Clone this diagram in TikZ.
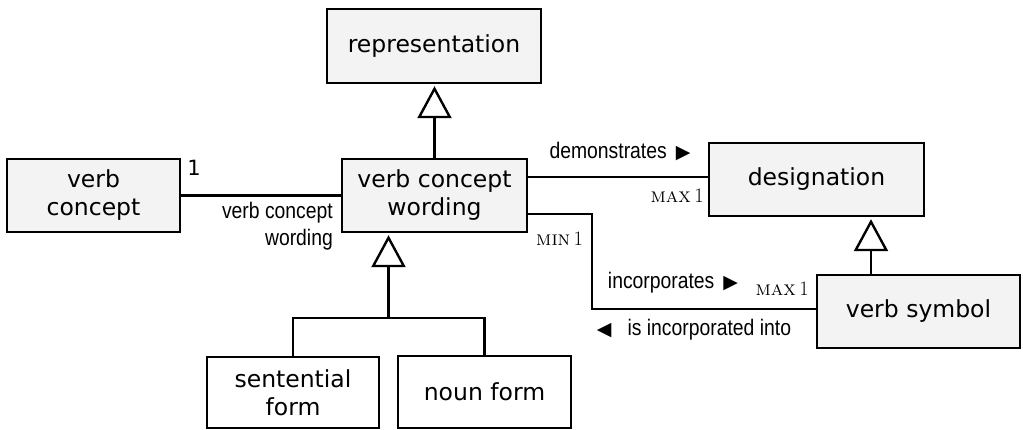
\documentclass[tikz,border=0pt]{standalone}
\usepackage{fontspec}
\newfontfamily\boxfont{DejaVu Sans}
\newfontfamily\lblfont{Liberation Sans}[FakeStretch=0.86]
\newfontfamily\symfont{DejaVu Sans}
\usetikzlibrary{arrows.meta}
\definecolor{boxgray}{RGB}{243,243,243}
\tikzset{
  cls/.style={draw, line width=2.4pt, fill=boxgray, align=center, inner sep=0pt,
    font=\boxfont\fontsize{23.5}{28}\selectfont},
  leaf/.style={cls, fill=white},
  gen/.style={line width=2.4pt, shorten >=2pt,
    -{Triangle[open,width=34pt,length=32pt]}},
  assoc/.style={line width=2.4pt},
  lbl/.style={font=\lblfont\fontsize{22.5}{27}\selectfont, inner sep=0pt, align=right},
  mult/.style={font=\fontsize{20.5}{22}\selectfont, inner sep=0pt},
  one/.style={font=\boxfont\fontsize{21}{24}\selectfont, inner sep=0pt}
}
\newcommand{\rtri}{{\symfont\fontsize{19}{19}\selectfont ▶}}
\newcommand{\ltri}{{\symfont\fontsize{19}{19}\selectfont ◀}}
\begin{document}
\begin{tikzpicture}[x=1pt,y=-1pt]
\useasboundingbox (0,0) rectangle (1023,430);
% boxes
\node[cls, minimum width=214pt, minimum height=74pt] (rep) at (434,46) {representation};
\node[cls, minimum width=173pt, minimum height=73pt] (vc) at (93.5,195.5) {verb\\concept};
\node[cls, minimum width=185pt, minimum height=73pt] (vcw) at (434.5,195.5) {verb concept\\wording};
\node[cls, minimum width=215pt, minimum height=73pt] (des) at (816.5,179.5) {designation};
\node[cls, minimum width=203pt, minimum height=73pt] (vs) at (918.5,311.5) {verb symbol};
\node[leaf, minimum width=172pt, minimum height=71pt] (sf) at (293,392.5) {sentential\\form};
\node[leaf, minimum width=173pt, minimum height=72pt] (nf) at (484.5,392) {noun form};
% helper coordinates
\coordinate (jn) at (388.5,318);
\coordinate (bend) at (592,260);
\coordinate (g2) at (871,250);
% generalizations
\draw[gen] (vcw.north) -- (rep.south -| vcw.north);
\draw[gen] (vs.north -| g2) -- (des.south -| g2);
\draw[assoc] (sf.north) |- (jn) -| (nf.north);
\draw[gen] (jn) -- (vcw.south -| jn);
% associations
\draw[assoc] (vc.east) -- (vcw.west);
\draw[assoc] ([yshift=18.5pt]vcw.east) -- ([yshift=18.5pt]vcw.east -| des.west);
\draw[assoc] ([yshift=-18.5pt]vcw.east) -| (bend) |- ([yshift=2.5pt]vs.west);
% labels
\node[one] (l1) at (194,168) {1};
\node[lbl, anchor=east] (lvcw) at (333,226) {verb concept\\wording};
\node[lbl] (ldem) at (620,152) {demonstrates\hspace{9pt}\rtri};
\node[mult, anchor=east] (m1) at (704,196) {\textsc{max}\,1};
\node[mult, anchor=west] (m2) at (536,239) {\textsc{min}\,1};
\node[lbl] (linc) at (673,283) {incorporates\hspace{9pt}\rtri};
\node[mult, anchor=east] (m3) at (809,289) {\textsc{max}\,1};
\node[lbl] (lisinc) at (694,330) {\ltri\hspace{16pt}is incorporated into};
\end{tikzpicture}
\end{document}
